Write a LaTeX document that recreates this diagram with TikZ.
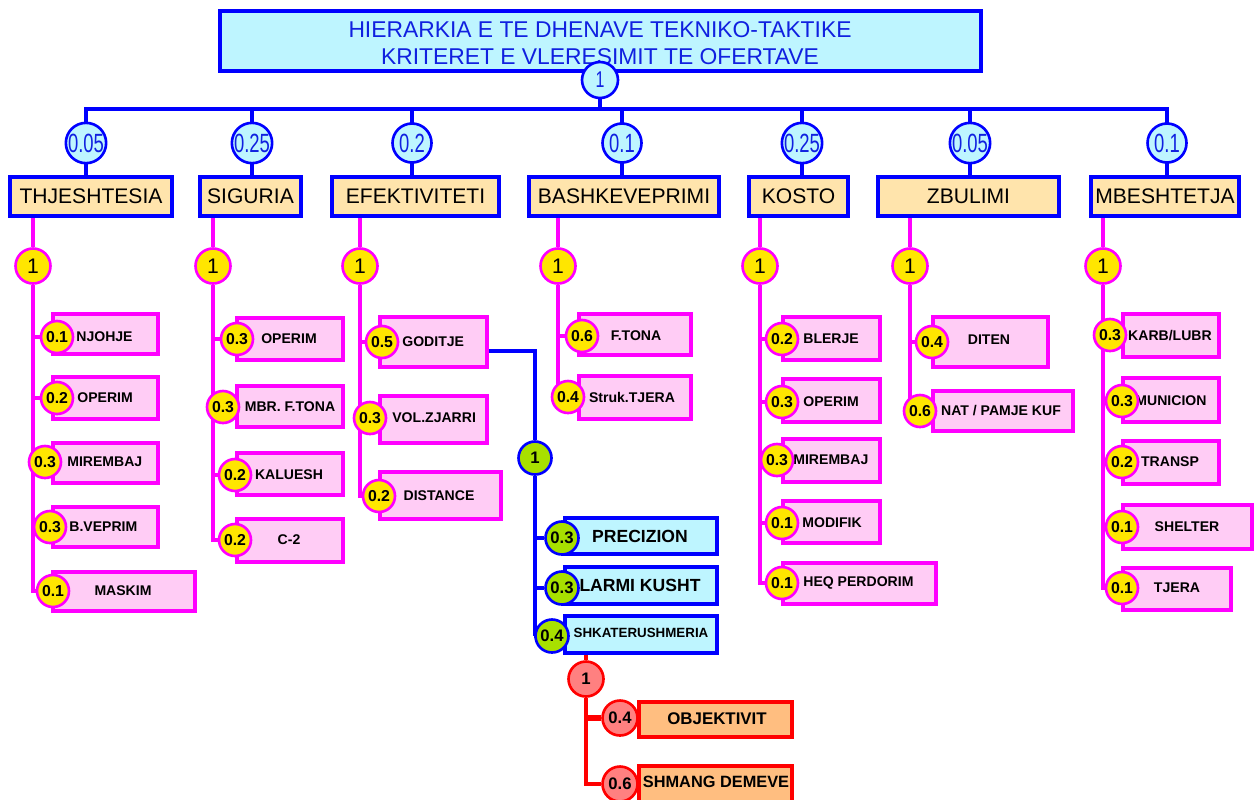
\documentclass[tikz,border=0pt]{standalone}
\usepackage{fontspec}
\usepackage{graphicx}
\setmainfont{Liberation Sans}
\usetikzlibrary{fit,shadows,backgrounds}

\definecolor{tblue}{RGB}{0,0,255}
\definecolor{ttxt}{RGB}{16,32,224}
\definecolor{tcyan}{RGB}{190,245,255}
\definecolor{tcat}{RGB}{255,228,172}
\definecolor{tmag}{RGB}{255,0,255}
\definecolor{tpink}{RGB}{255,204,245}
\definecolor{tyel}{RGB}{255,230,0}
\definecolor{tgreen}{RGB}{168,224,0}
\definecolor{tred}{RGB}{255,0,0}
\definecolor{tsalmon}{RGB}{255,128,128}
\definecolor{torange}{RGB}{255,190,128}

\newcommand\nrw[1]{\scalebox{0.7}[1]{#1}}
\newcommand\lbox[6]{\node[#1, fit={(#3,#4) (#5,#6)}] (#2) {};}
\newcommand\lnum[5]{\node[#1] (#2) at (#3,#4) {#5};}

\begin{document}
\begin{tikzpicture}[x=0.02cm, y=-0.02cm,
  box/.style={inner sep=0pt, line width=1.8pt},
  titlebox/.style={box, draw=tblue, fill=tcyan, line width=1.9pt},
  catbox/.style={box, draw=tblue, fill=tcat, line width=1.8pt,
    general shadow={fill=tblue, shadow xshift=1.3pt, shadow yshift=-1.3pt}},
  cattxt/.style={inner sep=0pt, font=\fontsize{12}{12}\selectfont},
  pbox/.style={box, draw=tmag, fill=tpink,
    general shadow={fill=tmag, shadow xshift=1.2pt, shadow yshift=-1.2pt}},
  cbox/.style={box, draw=tblue, fill=tcyan,
    general shadow={fill=tblue, shadow xshift=1.2pt, shadow yshift=-1.2pt}},
  obox/.style={box, draw=tred, fill=torange,
    general shadow={fill=tred, shadow xshift=1.2pt, shadow yshift=-1.2pt}},
  circ/.style={circle, inner sep=0pt, line width=1.5pt},
  wcirc/.style={circ, draw=tblue, fill=tcyan, minimum size=0.78cm, text=ttxt,
    font=\fontsize{15}{15}\selectfont},
  ycirc/.style={circ, draw=tmag, fill=tyel, minimum size=0.64cm,
    font=\bfseries\fontsize{9}{9}\selectfont},
  yone/.style={ycirc, minimum size=0.7cm, font=\fontsize{12}{12}\selectfont},
  gcirc/.style={circ, draw=tblue, fill=tgreen, minimum size=0.66cm,
    font=\bfseries\fontsize{9.5}{9.5}\selectfont},
  rcirc/.style={circ, draw=tred, fill=tsalmon, minimum size=0.7cm,
    font=\bfseries\fontsize{9.5}{9.5}\selectfont},
  ltxt/.style={inner sep=0pt, font=\bfseries\fontsize{8}{8}\selectfont},
  btxt/.style={inner sep=0pt, font=\bfseries\fontsize{10}{10}\selectfont},
  bline/.style={draw=tblue, line width=2.3pt, line cap=rect},
  mline/.style={draw=tmag, line width=2.1pt},
  rline/.style={draw=tred, line width=2.5pt}]

\useasboundingbox (0,0) rectangle (1256,799);

% ---------- title ----------
\node[titlebox, fit={(220,11) (981,71)}] (title) {};
\node[text=ttxt, align=center, font=\fontsize{13}{15.2}\selectfont] (ttl) at (600,43)
  {HIERARKIA E TE DHENAVE TEKNIKO-TAKTIKE\\KRITERET E VLERESIMIT TE OFERTAVE};
\node[wcirc, minimum size=0.72cm, font=\fontsize{13}{13}\selectfont] (root) at (600,80) {\nrw{1}};

% ---------- criteria ----------
\node[catbox, fit={(10,177) (172,216)}] (thj) {};
\node[cattxt] (thjt) at (thj) {THJESHTESIA};
\node[catbox, fit={(200,177) (301,216)}] (sig) {};
\node[cattxt] (sigt) at (sig) {SIGURIA};
\node[catbox, fit={(332,177) (499,216)}] (efe) {};
\node[cattxt] (efet) at (efe) {EFEKTIVITETI};
\node[catbox, fit={(529,177) (719,216)}] (bas) {};
\node[cattxt] (bast) at (bas) {BASHKEVEPRIMI};
\node[catbox, fit={(749,177) (848,216)}] (kos) {};
\node[cattxt] (kost) at (kos) {KOSTO};
\node[catbox, fit={(878,177) (1059,216)}] (zbu) {};
\node[cattxt] (zbut) at (zbu) {ZBULIMI};
\node[catbox, fit={(1091,177) (1239,216)}] (mbe) {};
\node[cattxt] (mbet) at (mbe) {MBESHTETJA};

\node[wcirc] (w1) at (86,143) {\nrw{0.05}};
\node[wcirc] (w2) at (252,143) {\nrw{0.25}};
\node[wcirc] (w3) at (412,143) {\nrw{0.2}};
\node[wcirc] (w4) at (622,143) {\nrw{0.1}};
\node[wcirc] (w5) at (802,143) {\nrw{0.25}};
\node[wcirc] (w6) at (970,143) {\nrw{0.05}};
\node[wcirc] (w7) at (1167,143) {\nrw{0.1}};
\coordinate (bar) at (600,109);

% ---------- column heads ----------
\lnum{yone}{y1}{33}{266}{1}
\lnum{yone}{y2}{213}{266}{1}
\lnum{yone}{y3}{360}{266}{1}
\lnum{yone}{y4}{558}{266}{1}
\lnum{yone}{y5}{760}{266}{1}
\lnum{yone}{y6}{910}{266}{1}
\lnum{yone}{y7}{1103}{266}{1}

% ---------- THJESHTESIA ----------
\lbox{pbox}{b11}{53}{314}{158}{354}
\node[ltxt, anchor=west] (t11) at (76,337) {NJOHJE};
\lnum{ycirc}{n11}{57}{337}{0.1}
\lbox{pbox}{b12}{53}{377}{158}{419}
\node[ltxt, anchor=west] (t12) at (77,398) {OPERIM};
\lnum{ycirc}{n12}{57}{398}{0.2}
\lbox{pbox}{b13}{53}{443}{158}{483}
\node[ltxt, anchor=west] (t13) at (67,462) {MIREMBAJ};
\lnum{ycirc}{n13}{45}{462}{0.3}
\lbox{pbox}{b14}{53}{507}{158}{547}
\node[ltxt, anchor=west] (t14) at (69,527) {B.VEPRIM};
\lnum{ycirc}{n14}{50}{527}{0.3}
\lbox{pbox}{b15}{53}{572}{195}{611}
\node[ltxt] (t15) at (123,591) {MASKIM};
\lnum{ycirc}{n15}{53}{591}{0.1}

% ---------- SIGURIA ----------
\lbox{pbox}{b21}{237}{318}{343}{360}
\node[ltxt] (t21) at (289,339) {OPERIM};
\lnum{ycirc}{n21}{237}{339}{0.3}
\lbox{pbox}{b22}{237}{386}{343}{427}
\node[ltxt] (t22) at (290,407) {MBR. F.TONA};
\lnum{ycirc}{n22}{223}{407}{0.3}
\lbox{pbox}{b23}{237}{453}{343}{495}
\node[ltxt] (t23) at (289,475) {KALUESH};
\lnum{ycirc}{n23}{235}{475}{0.2}
\lbox{pbox}{b24}{237}{519}{343}{562}
\node[ltxt] (t24) at (289,540) {C-2};
\lnum{ycirc}{n24}{235}{540}{0.2}

% ---------- EFEKTIVITETI ----------
\lbox{pbox}{b31}{380}{317}{487}{367}
\node[ltxt, anchor=west] (t31) at (402,342) {GODITJE};
\lnum{ycirc}{n31}{382}{342}{0.5}
\lbox{pbox}{b32}{380}{396}{487}{443}
\node[ltxt, anchor=west] (t32) at (392,418) {VOL.ZJARRI};
\lnum{ycirc}{n32}{370}{418}{0.3}
\lbox{pbox}{b33}{380}{472}{501}{519}
\node[ltxt] (t33) at (439,496) {DISTANCE};
\lnum{ycirc}{n33}{379}{496}{0.2}

% ---------- BASHKEVEPRIMI ----------
\lbox{pbox}{b41}{579}{314}{691}{355}
\node[ltxt] (t41) at (636,336) {F.TONA};
\lnum{ycirc}{n41}{582}{336}{0.6}
\lbox{pbox}{b42}{579}{376}{691}{419}
\node[ltxt] (t42) at (632,397) {Struk.TJERA};
\lnum{ycirc}{n42}{568}{397}{0.4}

% ---------- KOSTO ----------
\lbox{pbox}{b51}{783}{317}{880}{360}
\node[ltxt, anchor=west] (t51) at (803,339) {BLERJE};
\lnum{ycirc}{n51}{782}{339}{0.2}
\lbox{pbox}{b52}{783}{379}{880}{422}
\node[ltxt, anchor=west] (t52) at (803,402) {OPERIM};
\lnum{ycirc}{n52}{782}{402}{0.3}
\lbox{pbox}{b53}{783}{439}{880}{482}
\node[ltxt, anchor=west] (t53) at (793,460) {MIREMBAJ};
\lnum{ycirc}{n53}{777}{460}{0.3}
\lbox{pbox}{b54}{783}{501}{880}{543}
\node[ltxt, anchor=west] (t54) at (802,523) {MODIFIK};
\lnum{ycirc}{n54}{782}{523}{0.1}
\lbox{pbox}{b55}{783}{563}{936}{604}
\node[ltxt, anchor=west] (t55) at (803,583) {HEQ PERDORIM};
\lnum{ycirc}{n55}{782}{583}{0.1}

% ---------- ZBULIMI ----------
\lbox{pbox}{b61}{933}{317}{1048}{367}
\node[ltxt] (t61) at (989,340) {DITEN};
\lnum{ycirc}{n61}{932}{342}{0.4}
\lbox{pbox}{b62}{933}{391}{1073}{431}
\node[ltxt] (t62) at (1001,411) {NAT / PAMJE KUF};
\lnum{ycirc}{n62}{920}{411}{0.6}

% ---------- MBESHTETJA ----------
\lbox{pbox}{b71}{1123}{314}{1219}{357}
\node[ltxt] (t71) at (1170,336) {KARB/LUBR};
\lnum{ycirc}{n71}{1110}{335}{0.3}
\lbox{pbox}{b72}{1123}{378}{1219}{422}
\node[ltxt] (t72) at (1171,401) {MUNICION};
\lnum{ycirc}{n72}{1122}{401}{0.3}
\lbox{pbox}{b73}{1123}{441}{1219}{484}
\node[ltxt] (t73) at (1170,462) {TRANSP};
\lnum{ycirc}{n73}{1122}{462}{0.2}
\lbox{pbox}{b74}{1123}{505}{1252}{549}
\node[ltxt] (t74) at (1187,527) {SHELTER};
\lnum{ycirc}{n74}{1122}{527}{0.1}
\lbox{pbox}{b75}{1123}{568}{1231}{610}
\node[ltxt] (t75) at (1177,588) {TJERA};
\lnum{ycirc}{n75}{1122}{588}{0.1}

% ---------- GODITJE breakdown ----------
\lnum{gcirc}{g0}{535}{458}{1}
\lbox{cbox}{c1}{565}{518}{717}{554}
\node[btxt] (u1) at (640,536) {PRECIZION};
\lnum{gcirc}{g1}{562}{538}{0.3}
\lbox{cbox}{c2}{565}{567}{717}{604}
\node[btxt] (u2) at (640,585) {LARMI KUSHT};
\lnum{gcirc}{g2}{562}{588}{0.3}
\lbox{cbox}{c3}{565}{616}{717}{653}
\node[ltxt, font=\bfseries\fontsize{7.6}{7.6}\selectfont] (u3) at (641,633) {SHKATERUSHMERIA};
\lnum{gcirc}{g3}{552}{636}{0.4}

% ---------- SHKATERUSHMERIA breakdown ----------
\lnum{rcirc}{r0}{586}{679}{1}
\lbox{obox}{d1}{639}{702}{792}{737}
\node[btxt, font=\bfseries\fontsize{9.6}{9.6}\selectfont] (v1) at (717,719) {OBJEKTIVIT};
\lnum{rcirc}{r1}{620}{718}{0.4}
\lbox{obox}{d2}{639}{766}{792}{804}
\node[btxt, font=\bfseries\fontsize{9.3}{9.3}\selectfont] (v2) at (716,782) {SHMANG DEMEVE};
\lnum{rcirc}{r2}{620}{784}{0.6}

% ---------- connectors ----------
\begin{scope}[on background layer]
  \draw[bline] (w1 |- bar) -- (w7 |- bar);
  \draw[bline] (root) -- (root |- bar);
  \foreach \w/\c in {w1/thj, w2/sig, w3/efe, w4/bas, w5/kos, w6/zbu, w7/mbe}
    \draw[bline] (\w |- bar) -- (\w) -- (\w |- \c.north);

  \foreach \c/\y in {thj/y1, sig/y2, efe/y3, bas/y4, kos/y5, zbu/y6, mbe/y7}
    \draw[mline] (\c.south -| \y) -- (\y);

  \draw[mline] (y1) |- (n15);
  \foreach \n in {n11,n12,n13,n14} \draw[mline] (\n -| y1) -- (\n);
  \draw[mline] (y2) |- (n24);
  \foreach \n in {n21,n22,n23} \draw[mline] (\n -| y2) -- (\n);
  \draw[mline] (y3) |- (n33);
  \foreach \n in {n31,n32} \draw[mline] (\n -| y3) -- (\n);
  \draw[mline] (y4) |- (n42);
  \draw[mline] (n41 -| y4) -- (n41);
  \draw[mline] (y5) |- (n55);
  \foreach \n in {n51,n52,n53,n54} \draw[mline] (\n -| y5) -- (\n);
  \draw[mline] (y6) |- (n62);
  \draw[mline] (n61 -| y6) -- (n61);
  \draw[mline] (y7) |- (n75);
  \foreach \n in {n71,n72,n73,n74} \draw[mline] (\n -| y7) -- (\n);

  \draw[bline, line cap=butt] (b31.east |- 0,351) -| (g0);
  \draw[bline, line cap=butt] (g0) |- (g3);
  \foreach \n in {g1,g2} \draw[bline, line cap=butt] (\n -| g0) -- (\n);

  \draw[rline] (c3.south -| r0) -- (r0);
  \draw[rline] (r0) |- (r2);
  \draw[rline, line width=3pt] (r1 -| r0) -- (r1);
\end{scope}
\end{tikzpicture}
\end{document}
